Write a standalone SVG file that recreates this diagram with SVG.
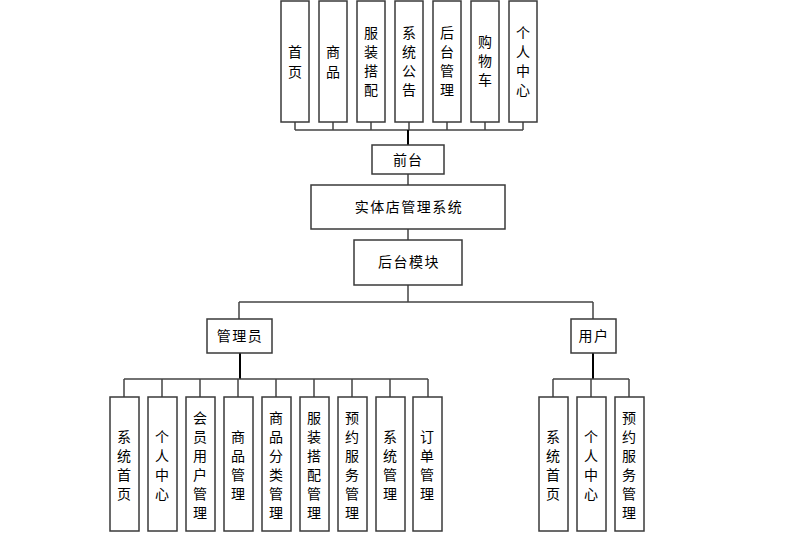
<svg xmlns="http://www.w3.org/2000/svg" width="809" height="535" viewBox="0 0 809 535">
<style>
.b{fill:#fff;stroke:#3a3a3a;stroke-width:1.5}
.t{font-family:"Noto Sans CJK SC","Noto Sans",sans-serif;font-size:14px;fill:#000;text-anchor:middle}
.l{fill:none;stroke:#444;stroke-width:1.5}
.k{fill:none;stroke:#000;stroke-width:2}
</style>
<rect width="809" height="535" fill="#fff"/>
<g id="connectors">
<path class="l" d="M295 122V130M333 122V130M371 122V130M409 122V130M447 122V130M485 122V130M523 122V130M295 130H523"/>
<path class="k" d="M408 130V145"/>
<path class="l" d="M408 174V185M408 229V240M408 285V302M239 302H593M239 302V319M593 302V319"/>
<path class="k" d="M240 353V379"/>
<path class="l" d="M124 379H428M124 379V397M162 379V397M200 379V397M238 379V397M276 379V397M314 379V397M352 379V397M390 379V397M428 379V397"/>
<path class="k" d="M593 353V379"/>
<path class="l" d="M553 379H629M553 379V397M591 379V397M629 379V397"/>
</g>
<g id="n_home"><rect class="b" x="281" y="1" width="28" height="121"/><text class="t" x="295" y="57">首<tspan x="295" dy="20">页</tspan></text></g>
<g id="n_goods"><rect class="b" x="319" y="1" width="28" height="121"/><text class="t" x="333" y="57">商<tspan x="333" dy="20">品</tspan></text></g>
<g id="n_outfit"><rect class="b" x="357" y="1" width="28" height="121"/><text class="t" x="371" y="38">服<tspan x="371" dy="19">装</tspan><tspan x="371" dy="19">搭</tspan><tspan x="371" dy="19">配</tspan></text></g>
<g id="n_notice"><rect class="b" x="395" y="1" width="28" height="121"/><text class="t" x="409" y="38">系<tspan x="409" dy="19">统</tspan><tspan x="409" dy="19">公</tspan><tspan x="409" dy="19">告</tspan></text></g>
<g id="n_backend"><rect class="b" x="433" y="1" width="28" height="121"/><text class="t" x="447" y="38">后<tspan x="447" dy="19">台</tspan><tspan x="447" dy="19">管</tspan><tspan x="447" dy="19">理</tspan></text></g>
<g id="n_cart"><rect class="b" x="471" y="1" width="28" height="121"/><text class="t" x="485" y="47">购<tspan x="485" dy="19">物</tspan><tspan x="485" dy="19">车</tspan></text></g>
<g id="n_personal"><rect class="b" x="509" y="1" width="28" height="121"/><text class="t" x="523" y="38">个<tspan x="523" dy="19">人</tspan><tspan x="523" dy="19">中</tspan><tspan x="523" dy="19">心</tspan></text></g>
<g id="n_front"><rect class="b" x="372" y="145" width="72" height="29"/><text class="t" x="408" y="165" letter-spacing="1">前台</text></g>
<g id="n_system"><rect class="b" x="311" y="185" width="194" height="44"/><text class="t" x="409" y="212" letter-spacing="1.5">实体店管理系统</text></g>
<g id="n_module"><rect class="b" x="354" y="240" width="108" height="45"/><text class="t" x="409" y="267" letter-spacing="1.5">后台模块</text></g>
<g id="n_admin"><rect class="b" x="207" y="319" width="65" height="34"/><text class="t" x="240" y="341" letter-spacing="1.5">管理员</text></g>
<g id="n_user"><rect class="b" x="571" y="319" width="45" height="34"/><text class="t" x="594" y="341" letter-spacing="1.5">用户</text></g>
<g id="a1"><rect class="b" x="110" y="397" width="29" height="134"/><text class="t" x="124" y="442">系<tspan x="124" dy="19">统</tspan><tspan x="124" dy="19">首</tspan><tspan x="124" dy="19">页</tspan></text></g>
<g id="a2"><rect class="b" x="148" y="397" width="29" height="134"/><text class="t" x="162" y="442">个<tspan x="162" dy="19">人</tspan><tspan x="162" dy="19">中</tspan><tspan x="162" dy="19">心</tspan></text></g>
<g id="a3"><rect class="b" x="186" y="397" width="29" height="134"/><text class="t" x="200" y="423">会<tspan x="200" dy="19">员</tspan><tspan x="200" dy="19">用</tspan><tspan x="200" dy="19">户</tspan><tspan x="200" dy="19">管</tspan><tspan x="200" dy="19">理</tspan></text></g>
<g id="a4"><rect class="b" x="224" y="397" width="29" height="134"/><text class="t" x="238" y="442">商<tspan x="238" dy="19">品</tspan><tspan x="238" dy="19">管</tspan><tspan x="238" dy="19">理</tspan></text></g>
<g id="a5"><rect class="b" x="262" y="397" width="29" height="134"/><text class="t" x="276" y="423">商<tspan x="276" dy="19">品</tspan><tspan x="276" dy="19">分</tspan><tspan x="276" dy="19">类</tspan><tspan x="276" dy="19">管</tspan><tspan x="276" dy="19">理</tspan></text></g>
<g id="a6"><rect class="b" x="300" y="397" width="29" height="134"/><text class="t" x="314" y="423">服<tspan x="314" dy="19">装</tspan><tspan x="314" dy="19">搭</tspan><tspan x="314" dy="19">配</tspan><tspan x="314" dy="19">管</tspan><tspan x="314" dy="19">理</tspan></text></g>
<g id="a7"><rect class="b" x="338" y="397" width="29" height="134"/><text class="t" x="352" y="423">预<tspan x="352" dy="19">约</tspan><tspan x="352" dy="19">服</tspan><tspan x="352" dy="19">务</tspan><tspan x="352" dy="19">管</tspan><tspan x="352" dy="19">理</tspan></text></g>
<g id="a8"><rect class="b" x="376" y="397" width="29" height="134"/><text class="t" x="390" y="442">系<tspan x="390" dy="19">统</tspan><tspan x="390" dy="19">管</tspan><tspan x="390" dy="19">理</tspan></text></g>
<g id="a9"><rect class="b" x="413" y="397" width="29" height="134"/><text class="t" x="427" y="442">订<tspan x="427" dy="19">单</tspan><tspan x="427" dy="19">管</tspan><tspan x="427" dy="19">理</tspan></text></g>
<g id="u1"><rect class="b" x="539" y="397" width="29" height="134"/><text class="t" x="553" y="442">系<tspan x="553" dy="19">统</tspan><tspan x="553" dy="19">首</tspan><tspan x="553" dy="19">页</tspan></text></g>
<g id="u2"><rect class="b" x="577" y="397" width="29" height="134"/><text class="t" x="591" y="442">个<tspan x="591" dy="19">人</tspan><tspan x="591" dy="19">中</tspan><tspan x="591" dy="19">心</tspan></text></g>
<g id="u3"><rect class="b" x="615" y="397" width="29" height="134"/><text class="t" x="629" y="423">预<tspan x="629" dy="19">约</tspan><tspan x="629" dy="19">服</tspan><tspan x="629" dy="19">务</tspan><tspan x="629" dy="19">管</tspan><tspan x="629" dy="19">理</tspan></text></g>
</svg>
